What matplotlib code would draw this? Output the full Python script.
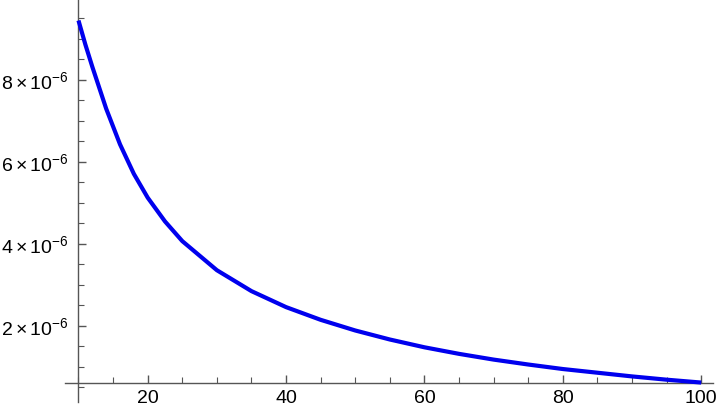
import matplotlib
matplotlib.use("Agg")
import matplotlib.pyplot as plt
from matplotlib.ticker import MultipleLocator

# values (y in units of 1e-6)
x_vals = [10, 11, 12, 14, 16, 18, 20, 22.5, 25, 30, 35, 40, 45, 50,
          55, 60, 65, 70, 75, 80, 85, 90, 95, 100]
y_vals = [9.45, 8.86, 8.32, 7.30, 6.43, 5.71, 5.13, 4.55, 4.07, 3.36,
          2.85, 2.46, 2.15, 1.89, 1.67, 1.48, 1.32, 1.18, 1.06, 0.95,
          0.86, 0.77, 0.69, 0.62]
x_ticks = [20, 40, 60, 80, 100]
y_ticks = [2, 4, 6, 8]

plt.rcParams['font.family'] = ['Liberation Sans', 'DejaVu Sans']
plt.rcParams['mathtext.fontset'] = 'custom'
plt.rcParams['mathtext.rm'] = 'Liberation Sans'
plt.rcParams['mathtext.it'] = 'Liberation Sans'


def draw_plot():
    fig = plt.figure(figsize=(7.2, 4.16), dpi=100)
    ax = fig.add_axes([65 / 720, 14 / 416, 648 / 720, 402 / 416])
    ys = [v * 1e-6 for v in y_vals]
    ax.plot(x_vals, ys, color='#0000ee', linewidth=3.0,
            solid_capstyle='butt', clip_on=False, zorder=3)

    ax.set_xlim(8.05, 101.7)
    ax.set_ylim(0.146e-6, 9.95e-6)

    for s in ['top', 'right']:
        ax.spines[s].set_visible(False)
    ax.spines['left'].set_position(('data', x_vals[0]))
    ax.spines['bottom'].set_position(('data', ys[-1]))
    for s in ['left', 'bottom']:
        ax.spines[s].set_color('#555555')
        ax.spines[s].set_linewidth(1.0)

    ax.set_xticks(x_ticks)
    ax.set_xticklabels([str(t) for t in x_ticks], fontsize=14)
    ax.set_yticks([t * 1e-6 for t in y_ticks])
    ax.set_yticklabels([r'$%d\times10^{-6}$' % t for t in y_ticks],
                       fontsize=14)
    ax.xaxis.set_minor_locator(MultipleLocator(5))
    ax.yaxis.set_minor_locator(MultipleLocator(0.5e-6))
    ax.tick_params(which='both', direction='in', color='#555555',
                   labelcolor='black')
    ax.tick_params(which='major', length=6, width=1.0)
    ax.tick_params(which='minor', length=4, width=0.8)
    ax.tick_params(axis='x', pad=5)
    ax.tick_params(axis='y', pad=7)

    fig.savefig('out.png', dpi=100)


if __name__ == "__main__":
    draw_plot()
